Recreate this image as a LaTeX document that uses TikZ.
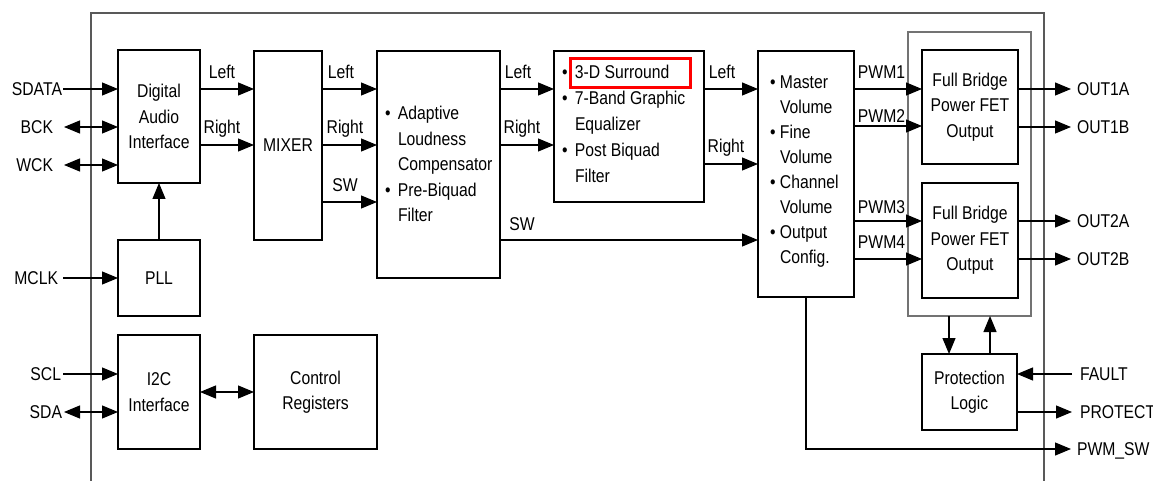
\documentclass[tikz,border=0pt]{standalone}
\usepackage{fontspec}
\setmainfont{Liberation Sans}[FakeStretch=0.85]
\usetikzlibrary{arrows.meta}
\newcommand\bul[1]{\makebox[#1][l]{\textbullet}}
\newcommand\ind[1]{\hspace*{#1}}
\begin{document}
\begin{tikzpicture}[x=1pt,y=-1pt,
  every node/.style={font=\fontsize{18.5}{25.5}\selectfont, inner sep=0pt, outer sep=0pt},
  box/.style={draw, line width=1.3pt, align=center, anchor=north west},
  fbbox/.style={box, line width=2.6pt},
  frame/.style={draw=black!65, line width=1.8pt},
  cont/.style={draw=black!55, line width=1.5pt, anchor=north west},
  hilite/.style={draw=red, line width=3.2pt},
  lbl/.style={anchor=base},
  arr/.style={line width=1.2pt, -{Triangle[length=16pt,width=13pt]}},
  dbl/.style={line width=1.2pt, {Triangle[length=16pt,width=13pt]}-{Triangle[length=16pt,width=13pt]}}]
\useasboundingbox (0,0) rectangle (1153,481);
\clip (0,0) rectangle (1153,481);

% outer frame (open at bottom)
\coordinate (fbl) at (91,500);
\coordinate (ftl) at (91,13);
\coordinate (ftr) at (1044,13);
\coordinate (fbr) at (1044,500);
\draw[frame] (fbl) -- (ftl) -- (ftr) -- (fbr);

% power stage container
\node[cont, minimum width=123pt, minimum height=284pt] (pwr) at (908,32) {};

% boxes
\node[box, minimum width=82pt, minimum height=133pt] (dai) at (118,50) {Digital\\Audio\\Interface};
\node[box, minimum width=68pt, minimum height=189pt] (mix) at (254,51) {MIXER};
\node[box, minimum width=123pt, minimum height=227pt] (alc) at (377,51) {};
\node[box, minimum width=150pt, minimum height=151pt] (eq) at (554,51) {};
\node[box, minimum width=96pt, minimum height=246pt] (vol) at (758,51) {};
\node[fbbox, minimum width=96pt, minimum height=114pt] (fb1) at (922,50) {Full Bridge\\Power FET\\Output};
\node[fbbox, minimum width=96pt, minimum height=115pt] (fb2) at (922,183) {Full Bridge\\Power FET\\Output};
\node[box, minimum width=95pt, minimum height=76pt] (prot) at (922,354) {Protection\\Logic};
\node[box, minimum width=82pt, minimum height=76pt] (pll) at (118,240) {PLL};
\node[box, minimum width=82pt, minimum height=114pt] (i2c) at (118,335) {I2C\\Interface};
\node[box, minimum width=123pt, minimum height=114pt] (ctrl) at (254,335) {Control\\Registers};

% list texts
\node[anchor=west, align=left] (alctxt) at (385,164) {\bul{13pt}Adaptive\\\ind{13pt}Loudness\\\ind{13pt}Compensator\\\bul{13pt}Pre-Biquad\\\ind{13pt}Filter};
\node[anchor=west, align=left, font=\fontsize{18.5}{26}\selectfont] (eqtxt) at (562,124) {\bul{13pt}3-D Surround\\\bul{13pt}7-Band Graphic\\\ind{13pt}Equalizer\\\bul{13pt}Post Biquad\\\ind{13pt}Filter};
\node[anchor=west, align=left, font=\fontsize{18.5}{25}\selectfont] (voltxt) at (770,172) {\bul{10pt}Master\\\ind{10pt}Volume\\\bul{10pt}Fine\\\ind{10pt}Volume\\\bul{10pt}Channel\\\ind{10pt}Volume\\\bul{10pt}Output\\\ind{10pt}Config.};
\node[hilite, minimum width=120pt, minimum height=29pt] (hl) at (630.5,73) {};

% left pins
\node[anchor=base east] (lsdata) at (62,95.6) {SDATA};
\node[anchor=base east] (lbck) at (53,133.6) {BCK};
\node[anchor=base east] (lwck) at (53,171.6) {WCK};
\node[anchor=base east] (lmclk) at (58,284.6) {MCLK};
\node[anchor=base east] (lscl) at (61,380.6) {SCL};
\node[anchor=base east] (lsda) at (62,418.6) {SDA};
\coordinate (csdata) at (63,89);
\coordinate (cbck) at (64,127);
\coordinate (cwck) at (64,165);
\coordinate (cmclk) at (63,278);
\coordinate (cscl) at (63,374);
\coordinate (csda) at (64,412);
\draw[arr] (csdata) -- (csdata -| dai.west);
\draw[dbl] (cbck) -- (cbck -| dai.west);
\draw[dbl] (cwck) -- (cwck -| dai.west);
\draw[arr] (cmclk) -- (cmclk -| pll.west);
\draw[arr] (cscl) -- (cscl -| i2c.west);
\draw[dbl] (csda) -- (csda -| i2c.west);

% internal
\draw[arr] (pll.north) -- (dai.south);
\draw[dbl] (i2c.east |- 0,392) -- (ctrl.west |- 0,392);

\draw[arr] (dai.east |- 0,89) -- (mix.west |- 0,89);
\draw[arr] (dai.east |- 0,145) -- (mix.west |- 0,145);
\node[lbl] (l1) at (222,79) {Left};
\node[lbl] (r1) at (222,134) {Right};

\draw[arr] (mix.east |- 0,89) -- (alc.west |- 0,89);
\draw[arr] (mix.east |- 0,145) -- (alc.west |- 0,145);
\draw[arr] (mix.east |- 0,202) -- (alc.west |- 0,202);
\node[lbl] (l2) at (341,79) {Left};
\node[lbl] (r2) at (345,134) {Right};
\node[lbl] (s2) at (345,192) {SW};

\draw[arr] (alc.east |- 0,89) -- (eq.west |- 0,89);
\draw[arr] (alc.east |- 0,145) -- (eq.west |- 0,145);
\draw[arr] (alc.east |- 0,240) -- (vol.west |- 0,240);
\node[lbl] (l3) at (518,79) {Left};
\node[lbl] (r3) at (522,134) {Right};
\node[lbl] (s3) at (522,230) {SW};

\draw[arr] (eq.east |- 0,89) -- (vol.west |- 0,89);
\draw[arr] (eq.east |- 0,164) -- (vol.west |- 0,164);
\node[lbl] (l4) at (722,79) {Left};
\node[lbl] (r4) at (726,153) {Right};

\draw[arr] (vol.east |- 0,89) -- (fb1.west |- 0,89);
\draw[arr] (vol.east |- 0,126) -- (fb1.west |- 0,126);
\draw[arr] (vol.east |- 0,221) -- (fb2.west |- 0,221);
\draw[arr] (vol.east |- 0,259) -- (fb2.west |- 0,259);
\node[lbl] (p1) at (881.5,79) {PWM1};
\node[lbl] (p2) at (881.5,123) {PWM2};
\node[lbl] (p3) at (881.5,213) {PWM3};
\node[lbl] (p4) at (881.5,248) {PWM4};

% right pins
\node[anchor=base west] (lo1a) at (1077,95.6) {OUT1A};
\node[anchor=base west] (lo1b) at (1077,133.6) {OUT1B};
\node[anchor=base west] (lo2a) at (1077,227.6) {OUT2A};
\node[anchor=base west] (lo2b) at (1077,265.6) {OUT2B};
\node[anchor=base west] (lfault) at (1080,380.6) {FAULT};
\node[anchor=base west] (lprot) at (1080,418.6) {PROTECT};
\node[anchor=base west] (lpwmsw) at (1077,455.6) {PWM\_SW};
\coordinate (co1a) at (1071,89);
\coordinate (co1b) at (1071,127);
\coordinate (co2a) at (1071,221);
\coordinate (co2b) at (1071,259);
\coordinate (cfault) at (1072,374);
\coordinate (cprot) at (1072,412);
\coordinate (cpwmsw) at (1071,449);
\draw[arr] (co1a -| fb1.east) -- (co1a);
\draw[arr] (co1b -| fb1.east) -- (co1b);
\draw[arr] (co2a -| fb2.east) -- (co2a);
\draw[arr] (co2b -| fb2.east) -- (co2b);
\draw[arr] (cfault) -- (cfault -| prot.east);
\draw[arr] (cprot -| prot.east) -- (cprot);
\draw[arr] (vol.south) -- (vol.south |- cpwmsw) -- (cpwmsw);

% protection links
\draw[arr] (pwr.south -| 949,0) -- (prot.north -| 949,0);
\draw[arr] (prot.north -| 990,0) -- (pwr.south -| 990,0);
\end{tikzpicture}
\end{document}
